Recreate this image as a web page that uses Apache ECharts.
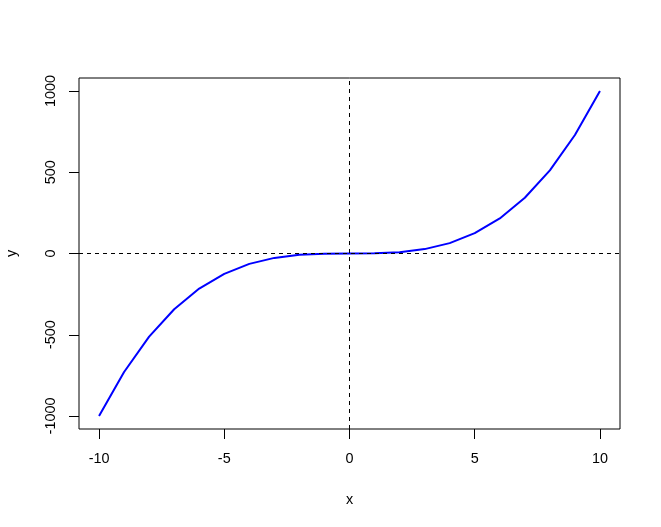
<!DOCTYPE html>
<html><head><meta charset="utf-8">
<script src="https://cdn.jsdelivr.net/npm/echarts@6/dist/echarts.min.js"></script>
<style>html,body{margin:0;padding:0;background:#fff}#c{width:661px;height:527px}</style>
</head><body><div id="c"></div>
<script>
var xValues = [-10,-9,-8,-7,-6,-5,-4,-3,-2,-1,0,1,2,3,4,5,6,7,8,9,10];
var yValues = [-1000,-729,-512,-343,-216,-125,-64,-27,-8,-1,0,1,8,27,64,125,216,343,512,729,1000];
var xTicks = [-10,-5,0,5,10];
var yTicks = [-1000,-500,0,500,1000];
var xTitle = 'x', yTitle = 'y';

var font = 'Liberation Sans, Arial, sans-serif';
var chart = echarts.init(document.getElementById('c'), null, {renderer:'canvas'});
chart.setOption({
  animation:false,
  backgroundColor:'#fff',
  grid:{left:79,right:41,top:78,bottom:98,containLabel:false,outerBoundsMode:'none',show:true,borderColor:'#000',borderWidth:1,backgroundColor:'transparent'},
  xAxis:{type:'value',min:-10.8,max:10.8,
    name:xTitle,nameLocation:'middle',nameGap:64,nameTextStyle:{fontFamily:font,fontSize:14.4,color:'#000'},
    axisLine:{show:false,onZero:false},splitLine:{show:false},
    axisTick:{show:true,inside:false,length:10,customValues:xTicks,lineStyle:{color:'#000',width:1}},
    axisLabel:{customValues:xTicks,margin:23,fontFamily:font,fontSize:14.4,color:'#000',formatter:function(v){return String(v);}}},
  yAxis:{type:'value',min:-1080,max:1080,
    name:yTitle,nameLocation:'middle',nameGap:60,nameRotate:90,nameTextStyle:{fontFamily:font,fontSize:14.4,color:'#000'},
    axisLine:{show:false,onZero:false},splitLine:{show:false},
    axisTick:{show:true,inside:false,length:10,customValues:yTicks,lineStyle:{color:'#000',width:1}},
    axisLabel:{customValues:yTicks,rotate:90,margin:21,fontFamily:font,fontSize:14.4,color:'#000',formatter:function(v){return String(v);}}},
  series:[{type:'line',data:xValues.map(function(x,i){return [x,yValues[i]];}),
    showSymbol:false,symbol:'none',lineStyle:{color:'#0000ff',width:2},
    markLine:{silent:true,symbol:['none','none'],label:{show:false},
      lineStyle:{color:'#000',type:[4,4],width:1},
      data:[{xAxis:0},{yAxis:0}]}}]
});
</script></body></html>
